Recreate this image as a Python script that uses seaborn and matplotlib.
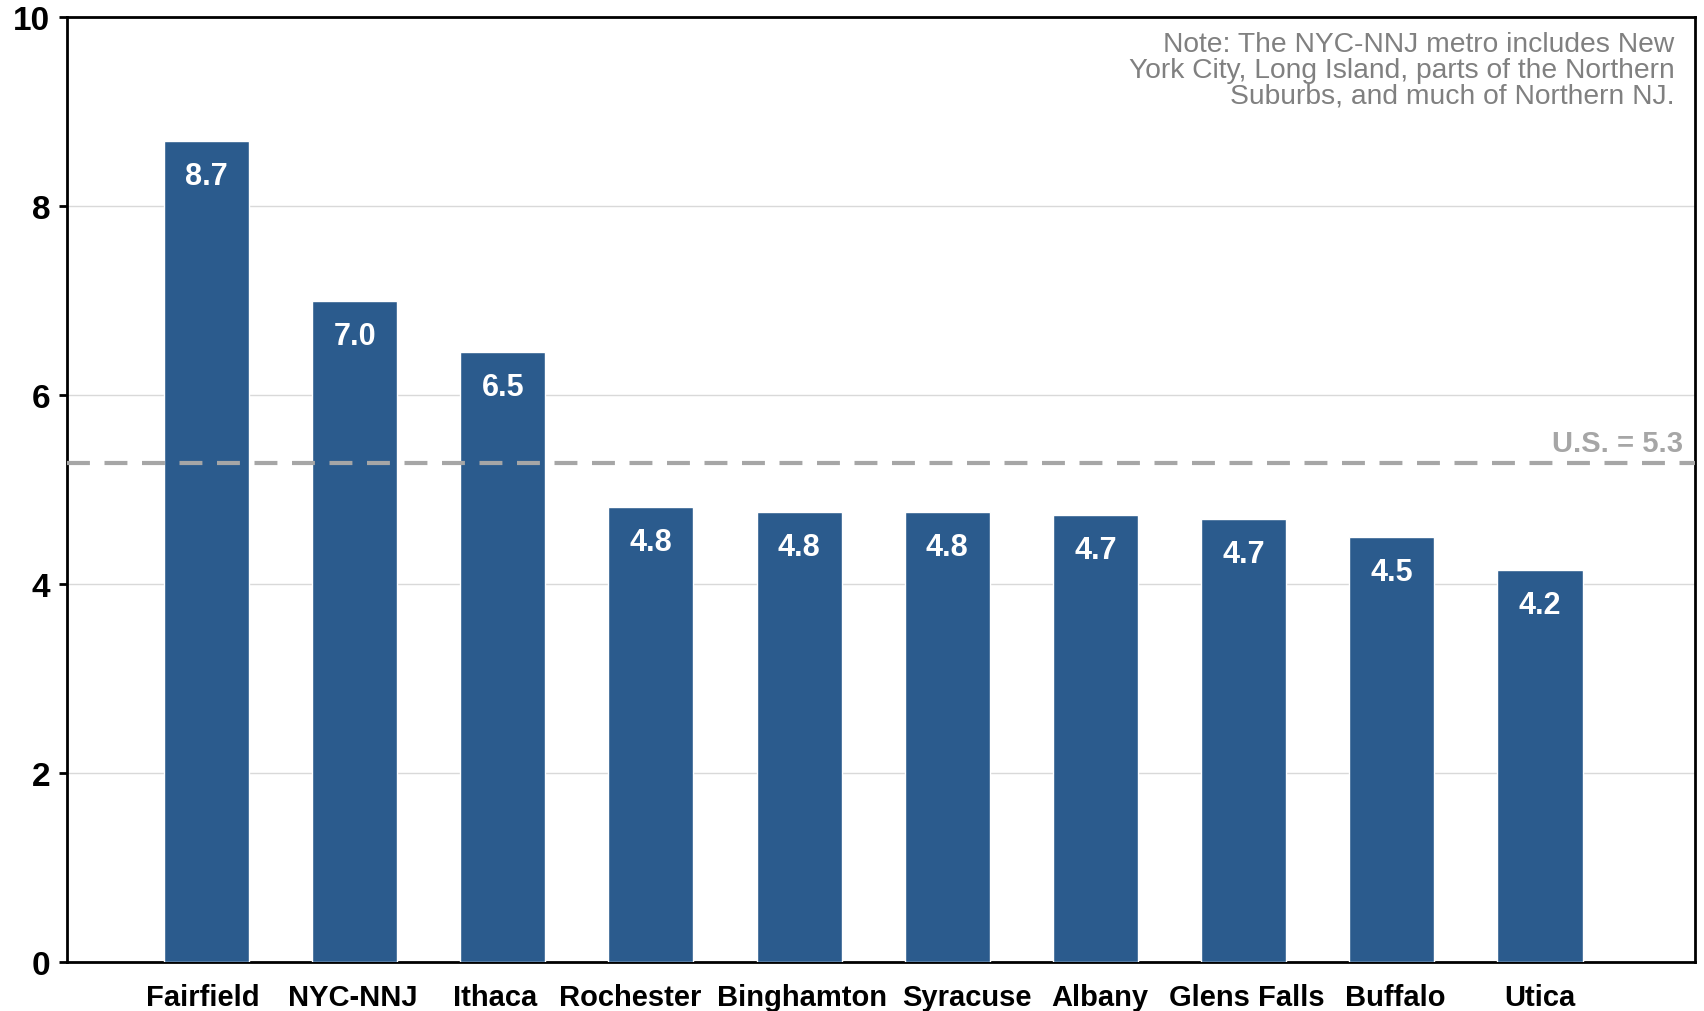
import matplotlib
matplotlib.use("Agg")
import matplotlib.pyplot as plt
import seaborn as sns
import pandas as pd

cities = ["Fairfield", "NYC-NNJ", "Ithaca", "Rochester", "Binghamton", "Syracuse",
          "Albany", "Glens Falls", "Buffalo", "Utica"]
values = [8.69, 7.0, 6.45, 4.81, 4.76, 4.76, 4.73, 4.69, 4.5, 4.15]
value_labels = ["8.7", "7.0", "6.5", "4.8", "4.8", "4.8", "4.7", "4.7", "4.5", "4.2"]
us_value = 5.28
us_label = "U.S. = 5.3"
note = ("Note: The NYC-NNJ metro includes New\n"
        "York City, Long Island, parts of the Northern\n"
        "Suburbs, and much of Northern NJ.")
yticks = [0, 2, 4, 6, 8, 10]

# horizontal nudges of category labels (pixels), layout only
label_nudge_px = [-4, -2, -8, -21, 3, 20, 4, 3, 3, 0]

sns.set_theme(style="white")
plt.rcParams['font.family'] = ['Liberation Sans', 'DejaVu Sans']

df = pd.DataFrame({"city": cities, "value": values})

fig = plt.figure(figsize=(17.04, 10.12), dpi=100)
ax = fig.add_axes([0.0393, 0.0484, 0.9554, 0.9338])

bar_color = "#2B5B8D"
sns.barplot(data=df, x="city", y="value", order=cities, color=bar_color,
            saturation=1, width=0.574, ax=ax, zorder=3)

ax.set_xlim(-0.941, 10.046)
ax.set_ylim(0, 10)
ax.set_yticks(yticks)
ax.set_yticklabels([str(t) for t in yticks], fontsize=24, fontweight="bold", color="black")
ax.set_xlabel("")
ax.set_ylabel("")
ax.set_xticklabels([])

# category labels drawn beneath each bar
for i, (c, dx) in enumerate(zip(cities, label_nudge_px)):
    ax.annotate(c, xy=(i, 0), xycoords=("data", "axes fraction"),
                xytext=(dx, -35), textcoords="offset pixels",
                ha="center", va="center", fontsize=21, fontweight="bold",
                color="black", annotation_clip=False)

ax.grid(axis="y", color="#d9d9d9", linewidth=1.0, zorder=0)
ax.grid(axis="x", visible=False)
ax.set_axisbelow(True)

for s in ax.spines.values():
    s.set_visible(True)
    s.set_color("black")
    s.set_linewidth(2)

ax.tick_params(axis="y", which="major", left=True, length=6, width=2, color="black", pad=6)
ax.tick_params(axis="x", which="major", bottom=False, length=0)

# bar value labels
for i, (v, t) in enumerate(zip(values, value_labels)):
    ax.annotate(t, xy=(i, v), xytext=(0, -35), textcoords="offset pixels",
                ha="center", va="center", color="white", fontsize=22,
                fontweight="bold", zorder=5)

# US average line
ax.axhline(us_value, color="#a6a6a6", linewidth=3, dashes=(5.5, 3.5), zorder=4)
ax.annotate(us_label, xy=(1, us_value), xycoords=("axes fraction", "data"),
            xytext=(-12, 6), textcoords="offset pixels", ha="right", va="bottom",
            color="#a6a6a6", fontsize=21, fontweight="bold", zorder=5)

ax.text(0.9875, 0.985, note, transform=ax.transAxes, ha="right", va="top",
        multialignment="right", color="#808080", fontsize=20.3, linespacing=0.98)

fig.savefig("out.png", dpi=100)
